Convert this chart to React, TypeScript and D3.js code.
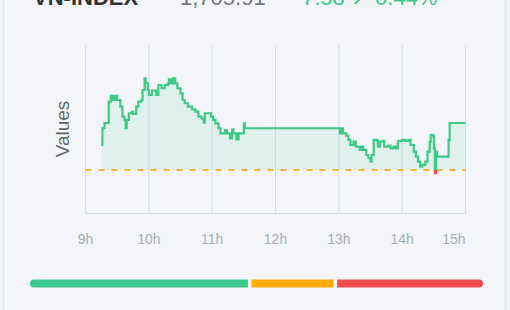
import React from "react";
import * as d3 from "d3";

// minutes after 9:00
const minutes = [
  15, 16, 18, 22, 24, 26, 28, 30, 33, 35, 37, 38, 39, 41, 44, 45, 48, 50, 53, 54,
  56, 57, 59, 60, 63, 66, 67, 69, 72, 75, 78, 79, 81, 83, 85, 87, 90, 92, 94, 97,
  101, 104, 107, 110, 112, 113, 116, 119, 121, 123, 126, 128, 132, 134, 137, 139, 140, 143, 145, 150,
  151, 240, 241, 242, 244, 247, 249, 251, 254, 256, 258, 260, 262, 263, 266, 268, 270, 271, 273, 276,
  277, 279, 282, 283, 285, 287, 289, 292, 294, 296, 300, 303, 306, 308, 311, 313, 315, 317, 319, 322,
  324, 326, 327, 329, 330, 331, 332, 333, 342, 344, 345, 360,
];
const values = [
  1702.36, 1705.1, 1705.91, 1709.35, 1710.27, 1709.62, 1710.27, 1709.62, 1708.54, 1706.93,
  1706.4, 1705.06, 1706.4, 1707.48, 1707.73, 1707.36, 1708.54, 1709.35, 1709.62, 1711.23,
  1713.12, 1712.36, 1711.23, 1710.43, 1711.12, 1711.12, 1710.43, 1712.04, 1711.51, 1712.04,
  1712.31, 1712.96, 1712.31, 1713.12, 1712.31, 1711.51, 1710.7, 1709.62, 1709.09, 1708.54,
  1708.12, 1707.73, 1706.93, 1706.67, 1705.96, 1707.48, 1707.48, 1706.93, 1706.4, 1705.86,
  1705.06, 1704.25, 1704.78, 1704.25, 1703.44, 1704.89, 1704.25, 1703.28, 1704.25, 1705.86,
  1705.06, 1705.06, 1704.25, 1705.06, 1704.25, 1703.86, 1703.17, 1702.36, 1702.89, 1702.09,
  1702.09, 1701.56, 1702.09, 1701.56, 1700.75, 1700.22, 1699.67, 1700.75, 1703.17, 1703.01,
  1702.09, 1702.89, 1703.01, 1702.09, 1702.09, 1702.25, 1701.83, 1702.09, 1701.83, 1703.01,
  1703.17, 1703.01, 1703.17, 1702.36, 1701.28, 1700.48, 1699.67, 1698.86, 1699.14, 1699.67,
  1701.28, 1702.89, 1703.98, 1703.86, 1701.83, 1697.8, 1701.28, 1700.48, 1700.48, 1703.17,
  1705.91, 1705.91,
];
const refValue = 1698.33;
const tickHours = [0, 1, 2, 3, 4, 5, 6];
const tickLabels = ["9h", "10h", "11h", "12h", "13h", "14h", "15h"];
const headerName = "VN-INDEX";
const headerPrice = "1,705.91";
const headerChange = "7.58 \u2197 0.44%";
const barShares = [0.485, 0.189, 0.326];
const barColors = ["#3cc98a", "#fdab0d", "#ef4c50"];

const W = 510;
const H = 310;
const PL = 85.5, PR = 465.5, PT = 45, PB = 213;
const GREEN = "#3cc98a";
const RED = "#ef4c50";

export default function App() {
  const data = minutes.map((m, i) => ({ m, v: values[i] }));
  const x = d3.scaleLinear().domain([0, 360]).range([PL, PR]);
  const y = d3.scaleLinear().domain([1691.39, 1718.49]).range([PB, PT]);
  const yRef = y(refValue);

  const line = d3
    .line<{ m: number; v: number }>()
    .x((d) => x(d.m))
    .y((d) => y(d.v))
    .curve(d3.curveStepAfter);
  const area = d3
    .area<{ m: number; v: number }>()
    .x((d) => x(d.m))
    .y0(yRef)
    .y1((d) => y(d.v))
    .curve(d3.curveStepAfter);

  // progress bar
  const barL = 30, barR = 483, gap = 3.5, barY = 279.5, barH = 8;
  const barScale = d3.scaleLinear().domain([0, 1]).range([barL, barR]);
  const cum = [0];
  barShares.forEach((s, i) => cum.push(cum[i] + s));

  const segPath = (x0: number, x1: number, roundL: boolean, roundR: boolean) => {
    const r = barH / 2;
    const p = d3.path();
    const yT = barY, yB = barY + barH;
    if (roundL) {
      p.moveTo(x0 + r, yT);
    } else p.moveTo(x0, yT);
    if (roundR) {
      p.lineTo(x1 - r, yT);
      p.arc(x1 - r, yT + r, r, -Math.PI / 2, Math.PI / 2);
    } else {
      p.lineTo(x1, yT);
      p.lineTo(x1, yB);
    }
    if (roundL) {
      p.lineTo(x0 + r, yB);
      p.arc(x0 + r, yT + r, r, Math.PI / 2, (3 * Math.PI) / 2);
    } else {
      p.lineTo(x0, yB);
    }
    p.closePath();
    return p.toString();
  };

  const font = "'Liberation Sans', Arial, sans-serif";

  return (
    <svg
      width={W}
      height={H}
      style={{ position: "absolute", left: 0, top: 0, background: "#f3f5f9" }}
      fontFamily={font}
    >
      <defs>
        <clipPath id="above">
          <rect x={0} y={0} width={W} height={yRef} />
        </clipPath>
        <clipPath id="below">
          <rect x={0} y={yRef} width={W} height={H - yRef} />
        </clipPath>
      </defs>
      <rect x={0} y={0} width={W} height={H} fill="#f3f5f9" />
      <line x1={3.5} x2={3.5} y1={0} y2={H} stroke="#dbe5f4" strokeWidth={1.5} />
      <line x1={505.5} x2={505.5} y1={0} y2={H} stroke="#dbe5f4" strokeWidth={1.5} />

      {/* header (cut at top, as in the reference) */}
      <text x={33} y={5} fontSize={22} fontWeight="bold" fill="#333">
        {headerName}
      </text>
      <text x={180} y={5} fontSize={22} fill="#777">
        {headerPrice}
      </text>
      <text x={302} y={5} fontSize={22} fill={GREEN}>
        {headerChange}
      </text>

      {/* grid */}
      {tickHours.map((h) => (
        <line
          key={h}
          x1={x(h * 60)}
          x2={x(h * 60)}
          y1={PT}
          y2={PB}
          stroke="#d9dde4"
          strokeWidth={1}
        />
      ))}
      <line x1={PL} x2={PR} y1={PB + 0.5} y2={PB + 0.5} stroke="#d3d7de" strokeWidth={1} />

      {/* area + line */}
      <path d={area(data) ?? ""} fill={GREEN} fillOpacity={0.1} clipPath="url(#above)" />
      <path d={area(data) ?? ""} fill={RED} fillOpacity={0.1} clipPath="url(#below)" />
      <line
        x1={PL}
        x2={PR}
        y1={yRef}
        y2={yRef}
        stroke="#f0b53a"
        strokeWidth={2}
        strokeDasharray="6 7"
      />
      <path
        d={line(data) ?? ""}
        fill="none"
        stroke={GREEN}
        strokeWidth={2.2}
        clipPath="url(#above)"
      />
      <path
        d={line(data) ?? ""}
        fill="none"
        stroke={RED}
        strokeWidth={2}
        clipPath="url(#below)"
      />

      {/* x labels */}
      {tickHours.map((h, i) => (
        <text
          key={h}
          x={x(h * 60)}
          y={244}
          fontSize={14}
          fill="#a9adb3"
          textAnchor={i === tickHours.length - 1 ? "end" : "middle"}
        >
          {tickLabels[i]}
        </text>
      ))}

      {/* y label */}
      <text
        transform={`translate(69, ${(PT + PB) / 2}) rotate(-90)`}
        fontSize={19}
        fill="#666"
        textAnchor="middle"
      >
        Values
      </text>

      {/* progress bar */}
      {barShares.map((s, i) => {
        const x0 = barScale(cum[i]) + (i > 0 ? gap / 2 : 0);
        const x1 = barScale(cum[i + 1]) - (i < barShares.length - 1 ? gap / 2 : 0);
        return (
          <path
            key={i}
            d={segPath(x0, x1, i === 0, i === barShares.length - 1)}
            fill={barColors[i]}
          />
        );
      })}
    </svg>
  );
}
